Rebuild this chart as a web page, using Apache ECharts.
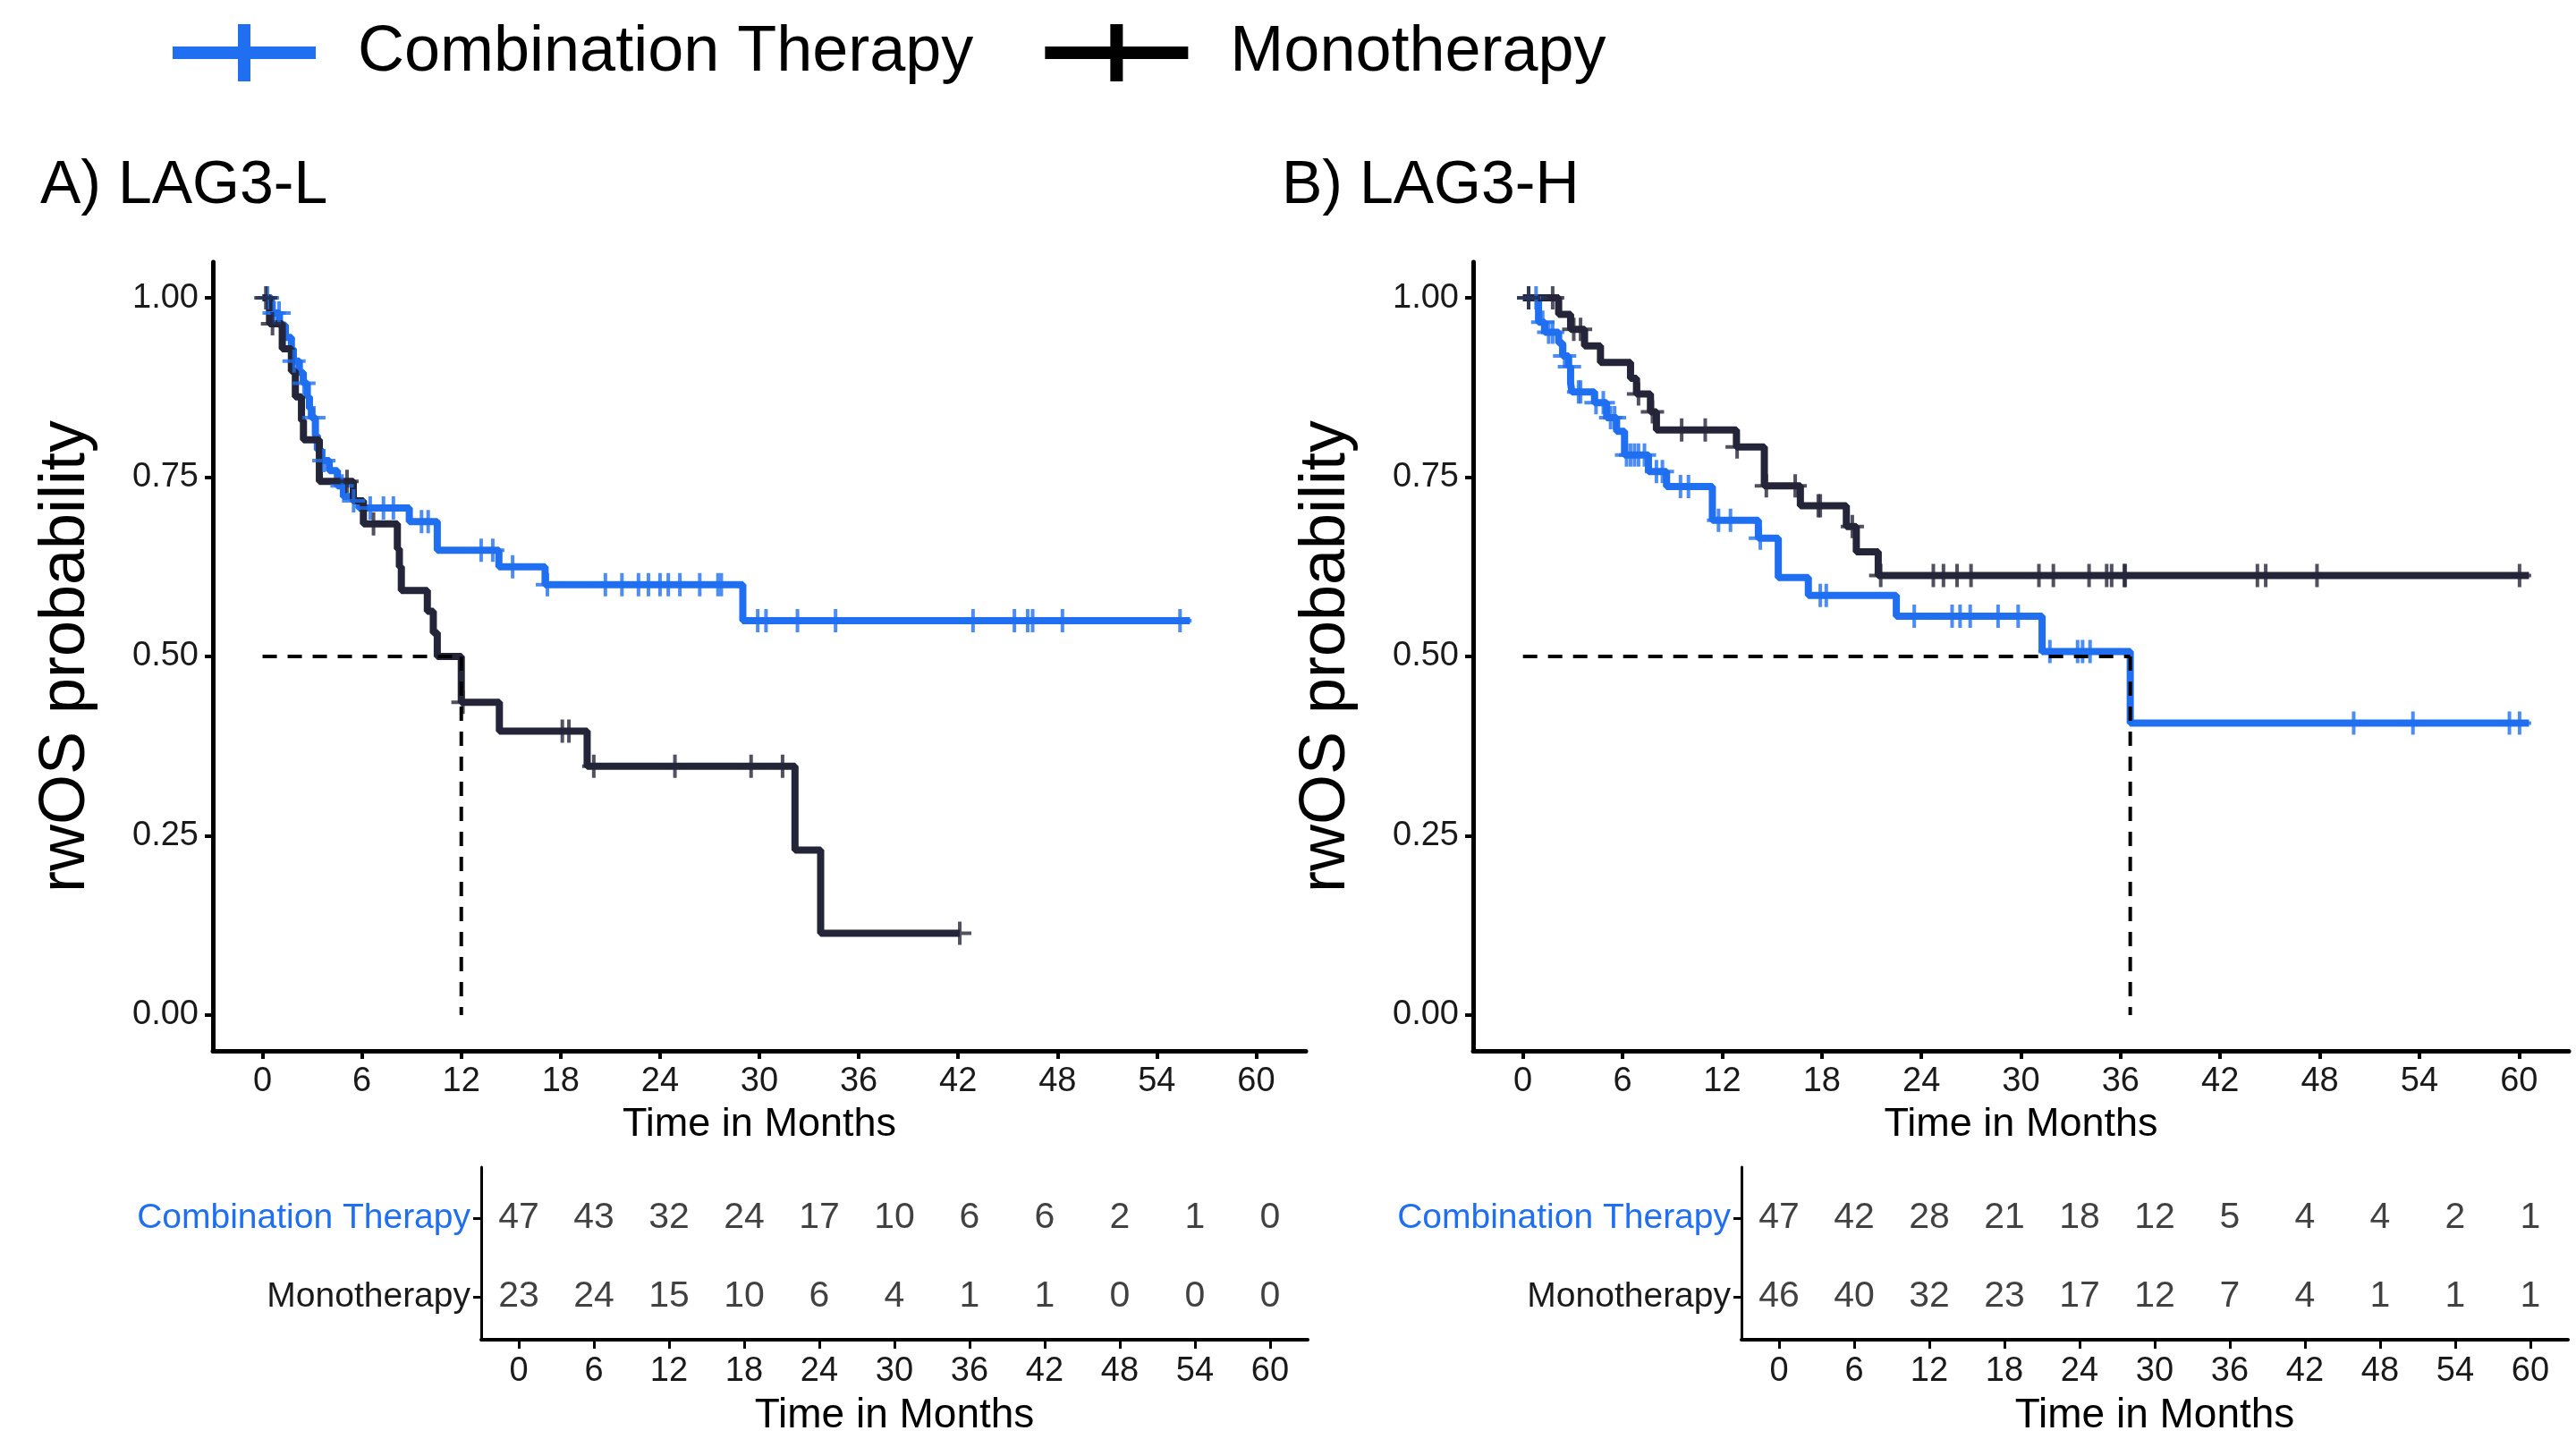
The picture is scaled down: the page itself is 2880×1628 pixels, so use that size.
<!DOCTYPE html>
<html>
<head>
<meta charset="utf-8">
<title>rwOS by LAG3 expression</title>
<script src="https://cdn.jsdelivr.net/npm/echarts@6.0.0/dist/echarts.min.js"></script>
<style>
html, body { margin: 0; padding: 0; background: #fff; }
#chart { width: 2880px; height: 1628px; }
</style>
</head>
<body>
<div id="chart"></div>
<script>
// KM steps [month, survival]
var lowComboSteps = [[0,1],[0.54,0.979],[1.02,0.962],[1.38,0.945],[1.74,0.929],[1.86,0.912],[2.22,0.896],[2.46,0.881],[2.7,0.862],[2.83,0.846],[2.95,0.833],[3.19,0.808],[3.31,0.788],[3.55,0.773],[4.03,0.759],[4.52,0.738],[4.88,0.723],[5.46,0.717],[5.82,0.707],[8.86,0.688],[10.55,0.648],[14.27,0.625],[17.06,0.6],[29.0,0.55],[56,0.55]];
var lowMonoSteps = [[0,1],[0.42,0.964],[1.19,0.929],[1.74,0.898],[1.98,0.862],[2.35,0.829],[2.47,0.802],[3.43,0.744],[5.48,0.717],[6.09,0.685],[8.14,0.65],[8.26,0.625],[8.38,0.592],[9.95,0.563],[10.31,0.533],[10.55,0.5],[12.0,0.436],[14.3,0.396],[19.6,0.347],[32.15,0.23],[33.7,0.114],[42.1,0.114]];
var highComboSteps = [[0,1],[0.94,0.966],[1.31,0.952],[2.15,0.937],[2.39,0.919],[2.75,0.904],[2.87,0.881],[2.95,0.869],[4.31,0.854],[5.04,0.833],[5.64,0.814],[6.12,0.781],[7.56,0.758],[8.65,0.737],[11.41,0.69],[14.18,0.665],[15.38,0.61],[17.19,0.585],[22.49,0.556],[31.27,0.507],[36.58,0.407],[60.6,0.407]];
var highMonoSteps = [[0,1],[2.15,0.977],[2.87,0.956],[3.71,0.933],[4.67,0.91],[6.48,0.888],[6.84,0.866],[7.68,0.841],[8.04,0.816],[12.86,0.792],[14.54,0.738],[16.71,0.71],[19.48,0.681],[20.08,0.646],[21.4,0.613],[60.6,0.613]];

// censoring times (months)
var lowComboCensor = [0.3,0.7,1.0,1.9,2.5,3.1,3.7,4.8,5.5,6.5,7.3,7.9,9.6,10.0,13.2,13.9,15.1,17.2,20.7,21.7,22.7,23.3,24.0,24.5,25.2,26.4,27.5,27.7,29.9,30.4,32.3,34.6,42.9,45.4,46.2,46.5,48.3,55.4];
var lowMonoCensor = [0.2,0.6,5.1,6.7,12.1,18.1,18.5,20.0,24.9,29.5,31.4,42.1];
var highComboCensor = [0.34,0.79,1.19,1.55,1.79,2.51,2.8,3.35,3.47,4.4,4.84,5.28,5.52,6.24,6.48,6.72,6.96,7.32,8.04,8.4,9.49,9.97,11.78,12.5,14.3,17.91,18.27,23.57,25.85,26.33,26.94,28.62,29.83,31.74,33.41,33.71,34.16,50.04,53.61,59.42,60.03];
var highMonoCensor = [0.34,1.79,3.06,3.47,6.96,7.8,9.56,10.98,12.9,14.66,16.4,17.79,17.91,19.84,21.55,24.72,25.33,26.15,26.99,31.08,31.95,34.1,35.16,35.46,36.22,36.28,44.24,44.74,47.83,60.03];

// median survival (months)
var lowMedian = 12.0;
var highMedian = 36.58;

// number at risk
var riskTimes = [0,6,12,18,24,30,36,42,48,54,60];
var lowComboRisk = [47,43,32,24,17,10,6,6,2,1,0];
var lowMonoRisk = [23,24,15,10,6,4,1,1,0,0,0];
var highComboRisk = [47,42,28,21,18,12,5,4,4,2,1];
var highMonoRisk = [46,40,32,23,17,12,7,4,1,1,1];

var monthTicks = [0,6,12,18,24,30,36,42,48,54,60];
var probTicks = [0,0.25,0.5,0.75,1];

var BLUE = '#1f6ff0';
var DARK = '#25253a';
var FONT = 'Liberation Sans';

function levelAt(steps, t) {
  var v = steps[0][1];
  for (var i = 0; i < steps.length; i++) {
    if (steps[i][0] <= t) v = steps[i][1]; else break;
  }
  return v;
}
function censorPoints(steps, times) {
  return times.map(function (t) { return [t, levelAt(steps, t)]; });
}
function riskPoints(counts, row) {
  return counts.map(function (n, i) { return [riskTimes[i], row, n]; });
}

var plusIcon = 'path://M0,11h26v4h-26z M11,0h4v26h-4z';
var legendIcon = 'path://M0,25h160v14h-160z M73,0h14v64h-14z';

function plotX(idx) {
  return {
    gridIndex: idx, type: 'value', min: -3, max: 63,
    name: 'Time in Months', nameLocation: 'middle', nameGap: 60,
    nameTextStyle: { fontSize: 45, color: '#000', fontFamily: FONT },
    axisLine: { onZero: false, lineStyle: { color: '#000', width: 5 } },
    axisTick: { customValues: monthTicks, length: 9, lineStyle: { width: 4, color: '#000' } },
    axisLabel: { customValues: monthTicks, fontSize: 38, color: '#1a1a1a', margin: 16, fontFamily: FONT },
    splitLine: { show: false }
  };
}
function plotY(idx) {
  return {
    gridIndex: idx, type: 'value', min: -0.05, max: 1.05,
    name: 'rwOS probability', nameLocation: 'middle', nameGap: 128,
    nameTextStyle: { fontSize: 72, color: '#000', fontFamily: FONT },
    axisLine: { onZero: false, lineStyle: { color: '#000', width: 5 } },
    axisTick: { customValues: probTicks, length: 9, lineStyle: { width: 4, color: '#000' } },
    axisLabel: { customValues: probTicks, fontSize: 38, color: '#1a1a1a', margin: 16, fontFamily: FONT,
      formatter: function (v) { return Number(v).toFixed(2); } },
    splitLine: { show: false }
  };
}
function tableX(idx) {
  return {
    gridIndex: idx, type: 'value', min: -3, max: 63,
    name: 'Time in Months', nameLocation: 'middle', nameGap: 62,
    nameTextStyle: { fontSize: 46, color: '#000', fontFamily: FONT },
    axisLine: { onZero: false, lineStyle: { color: '#000', width: 4 } },
    axisTick: { customValues: monthTicks, length: 10, lineStyle: { width: 3, color: '#000' } },
    axisLabel: { customValues: monthTicks, fontSize: 38, color: '#1a1a1a', margin: 17, fontFamily: FONT },
    splitLine: { show: false }
  };
}
function tableY(idx) {
  return {
    gridIndex: idx, type: 'value', min: 0.45, max: 2.65,
    axisLine: { onZero: false, lineStyle: { color: '#000', width: 3 } },
    axisTick: { customValues: [1, 2], length: 9, lineStyle: { width: 3, color: '#000' } },
    axisLabel: { customValues: [1, 2], fontSize: 39, margin: 12, fontFamily: FONT,
      formatter: function (v) { return v == 2 ? 'Combination Therapy' : 'Monotherapy'; },
      color: function (v) { return v == 2 ? BLUE : '#1a1a1a'; } },
    splitLine: { show: false }
  };
}

function curve(name, idx, steps, color) {
  return { name: name, type: 'line', xAxisIndex: idx, yAxisIndex: idx, data: steps, step: 'end',
    showSymbol: false, symbol: 'none', lineStyle: { color: color, width: 8 }, itemStyle: { color: color },
    animation: false, z: 3 };
}
function censor(name, idx, steps, times, color) {
  return { name: name, type: 'scatter', xAxisIndex: idx, yAxisIndex: idx, data: censorPoints(steps, times),
    symbol: plusIcon, symbolSize: [26, 26], itemStyle: { color: color }, animation: false, z: 4 };
}
function median(idx, t) {
  var style = { color: '#000', width: 4, type: [16, 12] };
  return [
    { name: 'median', type: 'line', xAxisIndex: idx, yAxisIndex: idx, data: [[0, 0.5], [t, 0.5]],
      symbol: 'none', lineStyle: style, animation: false, z: 5 },
    { name: 'median', type: 'line', xAxisIndex: idx, yAxisIndex: idx, data: [[t, 0.5], [t, 0]],
      symbol: 'none', lineStyle: style, animation: false, z: 5 }
  ];
}
function riskRow(idx, counts, row) {
  return { name: 'at risk', type: 'scatter', xAxisIndex: idx, yAxisIndex: idx, data: riskPoints(counts, row),
    symbolSize: 0, animation: false, silent: true,
    label: { show: true, position: 'inside', fontSize: 41, color: '#111', fontFamily: FONT,
      formatter: function (p) { return String(p.value[2]); } } };
}

var chart = echarts.init(document.getElementById('chart'));
var option = {
  backgroundColor: '#fff',
  animation: false,
  textStyle: { fontFamily: FONT },
  title: [
    { text: 'A) LAG3-L', left: 40, top: 169, textStyle: { fontSize: 68, fontWeight: 'normal', color: '#000', fontFamily: FONT } },
    { text: 'B) LAG3-H', left: 1428, top: 169, textStyle: { fontSize: 68, fontWeight: 'normal', color: '#000', fontFamily: FONT } }
  ],
  legend: {
    left: 188, top: 18, itemWidth: 160, itemHeight: 64, itemGap: 80, selectedMode: false,
    icon: legendIcon,
    textStyle: { fontSize: 72, color: '#000', fontFamily: FONT, padding: [0, 0, 0, 42] },
    data: [
      { name: 'Combination Therapy', itemStyle: { color: BLUE } },
      { name: 'Monotherapy', itemStyle: { color: '#000' } }
    ]
  },
  grid: [
    { left: 238, top: 293, width: 1222, height: 882 },
    { left: 1647, top: 293, width: 1225, height: 882 },
    { left: 538, top: 1305, width: 924, height: 193 },
    { left: 1947, top: 1305, width: 924, height: 193 }
  ],
  xAxis: [plotX(0), plotX(1), tableX(2), tableX(3)],
  yAxis: [plotY(0), plotY(1), tableY(2), tableY(3)],
  series: [
    curve('Combination Therapy', 0, lowComboSteps, BLUE),
    curve('Monotherapy', 0, lowMonoSteps, DARK),
    censor('Combination Therapy', 0, lowComboSteps, lowComboCensor, BLUE),
    censor('Monotherapy', 0, lowMonoSteps, lowMonoCensor, DARK),
    curve('Combination Therapy', 1, highComboSteps, BLUE),
    curve('Monotherapy', 1, highMonoSteps, DARK),
    censor('Combination Therapy', 1, highComboSteps, highComboCensor, BLUE),
    censor('Monotherapy', 1, highMonoSteps, highMonoCensor, DARK),
    riskRow(2, lowComboRisk, 2),
    riskRow(2, lowMonoRisk, 1),
    riskRow(3, highComboRisk, 2),
    riskRow(3, highMonoRisk, 1)
  ].concat(median(0, lowMedian), median(1, highMedian))
};
chart.setOption(option);
</script>
</body>
</html>
